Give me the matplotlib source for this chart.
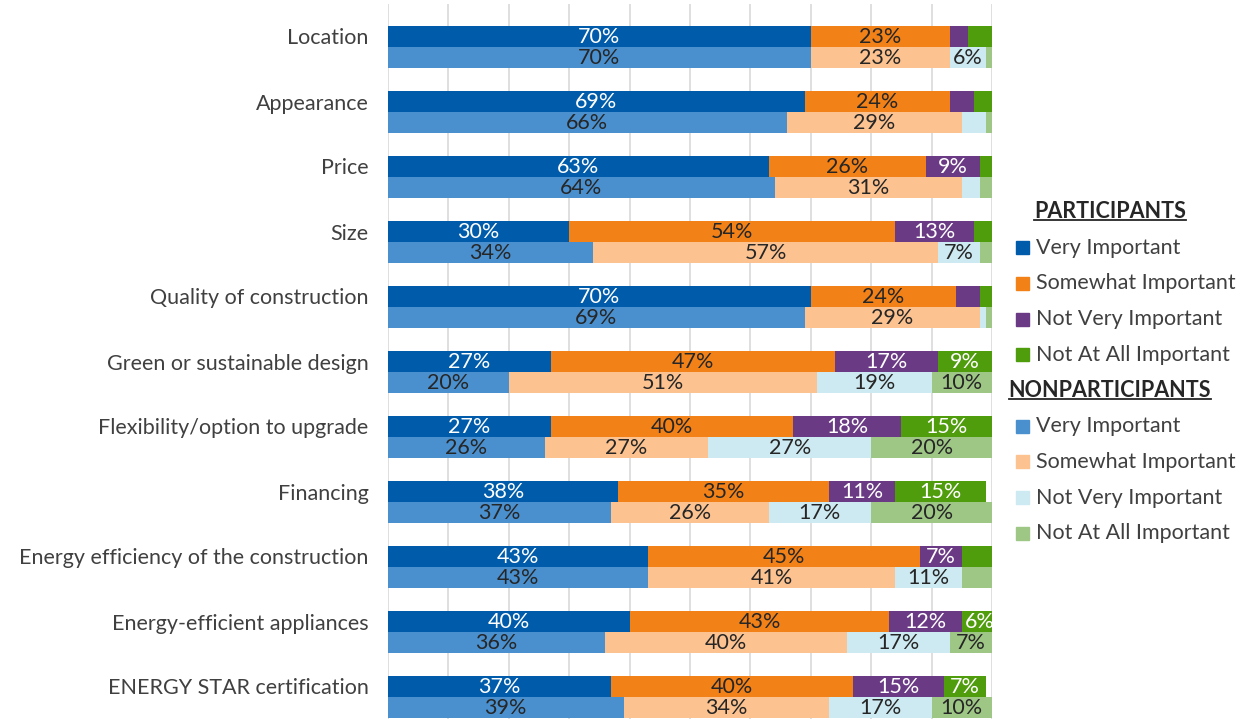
import numpy as np
import matplotlib.pyplot as plt
from matplotlib.patches import Rectangle
from matplotlib.lines import Line2D

plt.rcParams['font.family'] = ['Lato', 'DejaVu Sans']

categories = [
    "Location",
    "Appearance",
    "Price",
    "Size",
    "Quality of construction",
    "Green or sustainable design",
    "Flexibility/option to upgrade",
    "Financing",
    "Energy efficiency of the construction",
    "Energy-efficient appliances",
    "ENERGY STAR certification",
]
levels = ["Very Important", "Somewhat Important", "Not Very Important", "Not At All Important"]
groups = ["PARTICIPANTS", "NONPARTICIPANTS"]

# participants, percent of respondents
part_very = [70, 69, 63, 30, 70, 27, 27, 38, 43, 40, 37]
part_some = [23, 24, 26, 54, 24, 47, 40, 35, 45, 43, 40]
part_notvery = [3, 4, 9, 13, 4, 17, 18, 11, 7, 12, 15]
part_notall = [4, 3, 2, 3, 2, 9, 15, 15, 5, 6, 7]

# nonparticipants, percent of respondents
non_very = [70, 66, 64, 34, 69, 20, 26, 37, 43, 36, 39]
non_some = [23, 29, 31, 57, 29, 51, 27, 26, 41, 40, 34]
non_notvery = [6, 4, 3, 7, 1, 19, 27, 17, 11, 17, 17]
non_notall = [1, 1, 2, 2, 1, 10, 20, 20, 5, 7, 10]

part_colors = ["#005CAB", "#F28118", "#6B3A84", "#4F9C0C"]
non_colors = ["#4A90CF", "#FCC290", "#CDE9F1", "#9EC786"]
part_text = ["white", "#262626", "white", "white"]
non_text = ["#262626"] * 4

W, H = 1255, 719
fig = plt.figure(figsize=(W / 100, H / 100), dpi=100)
ax = fig.add_axes([388 / W, 0, (992 - 388) / W, 715 / H])

y = np.arange(len(categories))
h = 0.323
FS = 15.5


def stack(ypos, series, colors, tcolors):
    left = np.zeros(len(categories))
    for vals, c, tc in zip(series, colors, tcolors):
        vals = np.array(vals, dtype=float)
        ax.barh(ypos, vals, height=h, left=left, color=c, linewidth=0, zorder=2)
        for yy, l, v in zip(ypos, left, vals):
            if v >= 6:
                ax.text(l + v / 2, yy + 0.01, f"{v:.0f}%", ha="center", va="center",
                        color=tc, fontsize=FS, zorder=3)
        left += vals


stack(y, [part_very, part_some, part_notvery, part_notall], part_colors, part_text)
stack(y + h, [non_very, non_some, non_notvery, non_notall], non_colors, non_text)

ax.set_xlim(0, 100)
ax.set_ylim(10.5, -0.5)
ax.set_xticks(np.arange(0, 101, 10))
ax.tick_params(axis="x", length=0, labelbottom=False)
ax.grid(axis="x", color="#D9D9D9", linewidth=1.2, zorder=0)
ax.set_axisbelow(True)
ax.set_yticks(y)
ax.set_yticklabels(categories, fontsize=FS, color="#404040")
ax.tick_params(axis="y", length=0, pad=14)
for s in ax.spines.values():
    s.set_visible(False)

# legend drawn row by row: a bold underlined header, then four swatches per group
row_y = 212
step = 35.7
headers = []
for g, colors in zip(groups, [part_colors, non_colors]):
    t = fig.text(1110 / W, 1 - row_y / H, g, ha="center", va="center",
                 fontsize=FS, fontweight="bold", color="#262626")
    headers.append(t)
    row_y += step
    for lab, c in zip(levels, colors):
        fig.add_artist(Rectangle((1016 / W, 1 - (row_y + 6.5) / H), 13 / W, 13 / H,
                                 transform=fig.transFigure, color=c))
        fig.text(1036 / W, 1 - row_y / H, lab, ha="left", va="center",
                 fontsize=FS, color="#404040")
        row_y += step

fig.canvas.draw()
inv = fig.transFigure.inverted()
for t in headers:
    bb = t.get_window_extent()
    (x0, y0), (x1, y1) = inv.transform([(bb.x0, bb.y0), (bb.x1, bb.y1)])
    fig.add_artist(Line2D([x0, x1], [y0 + 0.003, y0 + 0.003], transform=fig.transFigure,
                          color="#262626", linewidth=1.3))

fig.savefig("out.png", dpi=100)
